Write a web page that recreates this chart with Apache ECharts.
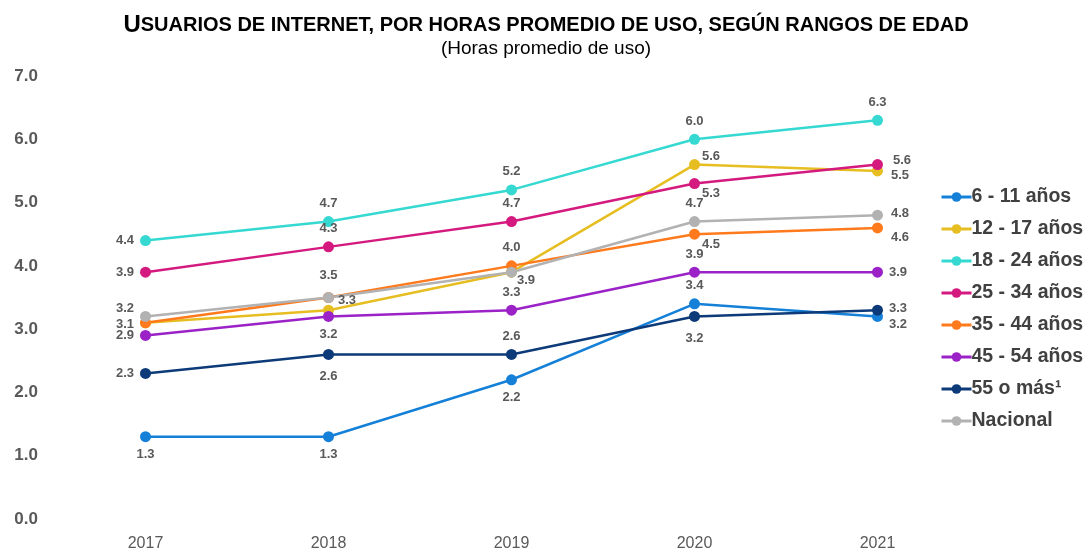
<!DOCTYPE html>
<html>
<head>
<meta charset="utf-8">
<script src="https://cdn.jsdelivr.net/npm/echarts@6/dist/echarts.min.js"></script>
<style>
  html, body { margin: 0; padding: 0; background: #fff; }
  #chartmain { width: 1092px; height: 552px; }
</style>
</head>
<body>
<div id="chartmain"></div>
<script>
var years = ['2017', '2018', '2019', '2020', '2021'];
var yTicks = [0, 1, 2, 3, 4, 5, 6, 7];

var names = ['6 - 11 años', '12 - 17 años', '18 - 24 años', '25 - 34 años',
             '35 - 44 años', '45 - 54 años', '55 o más¹', 'Nacional'];

var edad6a11 = [1.3, 1.3, 2.2, 3.4, 3.2];
var edad12a17 = [3.1, 3.3, 3.9, 5.6, 5.5];
var edad18a24 = [4.4, 4.7, 5.2, 6.0, 6.3];
var edad25a34 = [3.9, 4.3, 4.7, 5.3, 5.6];
var edad35a44 = [3.1, 3.5, 4.0, 4.5, 4.6];
var edad45a54 = [2.9, 3.2, 3.3, 3.9, 3.9];
var edad55mas = [2.3, 2.6, 2.6, 3.2, 3.3];
var nacional = [3.2, 3.5, 3.9, 4.7, 4.8];

var valores = [edad6a11, edad12a17, edad18a24, edad25a34, edad35a44, edad45a54, edad55mas, nacional];
var colores = ['#1580d8', '#e6be22', '#35d9d2', '#d4197f', '#ff7a1c', '#9a22c6', '#0d3a78', '#b2b2b2'];

// donde va cada etiqueta (null = sin etiqueta), por serie y por año
var posEtiquetas = [
    [['bottom', [0, 0]], ['bottom', [0, 0]], ['bottom', [0, 0]], ['top', [0, 0]], ['right', [0, 8]]],
    [null, ['right', [-2, -10]], null, ['right', [-4, -8]], ['right', [2, 4]]],
    [['left', [0, 0]], ['top', [0, 0]], ['top', [0, 0]], ['top', [0, 0]], ['top', [0, 0]]],
    [['left', [0, 0]], ['top', [0, 0]], ['top', [0, 0]], ['right', [-4, 10]], ['right', [4, -4]]],
    [['left', [0, 2]], ['top', [0, -4]], ['top', [0, 0]], ['right', [-4, 10]], ['right', [2, 10]]],
    [['left', [0, 0]], ['bottom', [0, 0]], ['top', [0, 0]], ['top', [0, 0]], ['right', [0, 0]]],
    [['left', [0, 0]], ['bottom', [0, 4]], ['top', [0, 0]], ['bottom', [0, 4]], ['right', [0, -2]]],
    [['left', [0, -8]], null, ['right', [-6, 8]], ['top', [0, 0]], ['right', [2, -2]]]
];

var labelBase = {
    color: '#595959',
    fontFamily: 'Liberation Sans, Arial, sans-serif',
    fontWeight: 'bold',
    fontSize: 13,
    distance: 6
};

var series = [];
for (var i = 0; i < names.length; i++) {
    var datos = [];
    for (var j = 0; j < years.length; j++) {
        var p = posEtiquetas[i][j];
        var item = { value: valores[i][j] };
        if (p) {
            item.label = { show: true, position: p[0], offset: p[1] };
        } else {
            item.label = { show: false };
        }
        datos.push(item);
    }
    series.push({
        name: names[i],
        type: 'line',
        data: datos,
        symbol: 'circle',
        symbolSize: 11,
        lineStyle: { width: 2.5, color: colores[i] },
        itemStyle: { color: colores[i] },
        label: Object.assign({
            formatter: function (params) { return params.value.toFixed(1); }
        }, labelBase),
        emphasis: { disabled: true },
        animation: false
    });
}

var option = {
    backgroundColor: '#ffffff',
    title: {
        text: '{a|U}{b|SUARIOS DE INTERNET, POR HORAS PROMEDIO DE USO, SEGÚN RANGOS DE EDAD}',
        subtext: '(Horas promedio de uso)',
        left: 'center',
        top: 8,
        itemGap: 2,
        textStyle: {
            rich: {
                a: { fontFamily: 'Liberation Sans, Arial, sans-serif', fontWeight: 'bold', fontSize: 24, color: '#000' },
                b: { fontFamily: 'Liberation Sans, Arial, sans-serif', fontWeight: 'bold', fontSize: 20, color: '#000' }
            }
        },
        subtextStyle: {
            fontFamily: 'Liberation Sans, Arial, sans-serif',
            fontSize: 19,
            color: '#000'
        }
    },
    legend: {
        orient: 'vertical',
        left: 935,
        top: 182,
        itemGap: 12,
        itemWidth: 30,
        itemHeight: 12,
        data: names,
        lineStyle: { width: 3 },
        textStyle: {
            fontFamily: 'Liberation Sans, Arial, sans-serif',
            fontWeight: 'bold',
            fontSize: 19.5,
            color: '#404040',
            padding: [0, 0, 0, -5]
        }
    },
    grid: {
        left: 54,
        width: 915,
        top: 76,
        bottom: 29
    },
    xAxis: {
        type: 'category',
        data: years,
        boundaryGap: true,
        axisLine: { show: false },
        axisTick: { show: false },
        axisLabel: {
            margin: 17,
            fontFamily: 'Liberation Sans, Arial, sans-serif',
            fontSize: 16,
            color: '#595959'
        }
    },
    yAxis: {
        type: 'value',
        min: yTicks[0],
        max: yTicks[yTicks.length - 1],
        interval: 1,
        splitLine: { show: false },
        axisLine: { show: false },
        axisTick: { show: false },
        axisLabel: {
            margin: 16,
            fontFamily: 'Liberation Sans, Arial, sans-serif',
            fontWeight: 'bold',
            fontSize: 17,
            color: '#595959',
            formatter: function (v) { return v.toFixed(1); }
        }
    },
    series: series
};

var myChart = echarts.init(document.getElementById('chartmain'));
myChart.setOption(option);
</script>
</body>
</html>
